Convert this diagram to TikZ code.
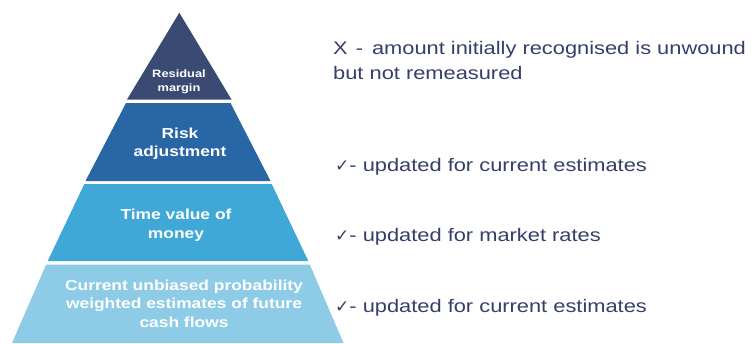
\documentclass[tikz,border=0pt]{standalone}
\usepackage{fontspec}
\setmainfont{Liberation Sans}
\newfontfamily\widefont[FakeStretch=1.2]{Liberation Sans}
\newfontfamily\symfont{DejaVu Sans}
\definecolor{bandA}{HTML}{3B4A73}
\definecolor{bandB}{HTML}{2866A6}
\definecolor{bandC}{HTML}{3FA8D7}
\definecolor{bandD}{HTML}{8DCBE7}
\definecolor{txtnavy}{HTML}{34406A}
\tikzset{
  bandtext/.style={text=white, font=\widefont\bfseries\fontsize{14.5}{18.5}\selectfont, align=center, inner sep=0pt},
  smalltext/.style={text=white, font=\widefont\bfseries\fontsize{10.7}{14}\selectfont, align=center, inner sep=0pt},
  notetext/.style={text=txtnavy, font=\widefont\fontsize{18.2}{25}\selectfont, anchor=west, align=left, inner sep=0pt},
}
\newcommand{\chk}{{\symfont\fontsize{17}{17}\selectfont ✓}}
\begin{document}
\begin{tikzpicture}[x=1pt,y=-1pt]
\useasboundingbox (0,0) rectangle (755,343);
\fill[white] (0,0) rectangle (755,343);
% bands
\fill[bandA] (179.3,12.7) -- (231.5,99.5) -- (127,99.5) -- cycle;
\fill[bandB] (126,103) -- (230.5,103) -- (270.5,181) -- (85.5,181) -- cycle;
\fill[bandC] (84.3,184) -- (271.7,184) -- (308.3,261) -- (47.7,261) -- cycle;
\fill[bandD] (46.2,264.5) -- (309.8,264.5) -- (343.5,343) -- (12,343) -- cycle;
% band texts
\node[smalltext] (resid) at (179,82) {Residual\\margin};
\node[bandtext] (risk) at (180,143.5) {Risk\\adjustment};
\node[bandtext] (time) at (176,225) {Time value of\\money};
\node[bandtext] (cur) at (184,303.5) {Current unbiased probability\\weighted estimates of future\\cash flows};
% notes
\node[notetext] (n1) at (333,60.5) {X\hspace{8pt}-\hspace{9pt}amount initially recognised is unwound\\but not remeasured};
\node[notetext] (n2) at (335,167) {\chk- updated for current estimates};
\node[notetext] (n3) at (335,237) {\chk- updated for market rates};
\node[notetext] (n4) at (335,308) {\chk- updated for current estimates};
\end{tikzpicture}
\end{document}
